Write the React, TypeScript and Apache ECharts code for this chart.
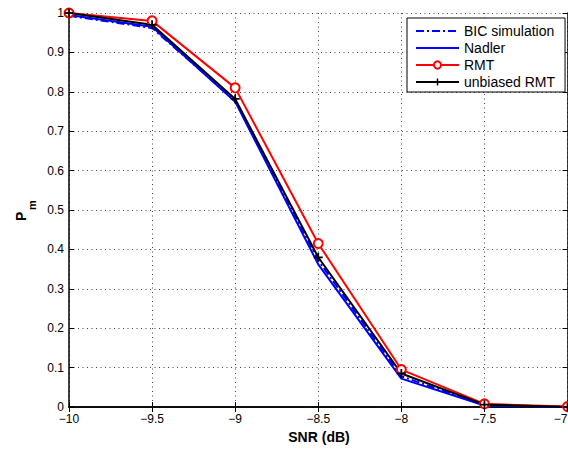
import React, { useEffect, useRef } from "react";
import * as echarts from "echarts";

const snrDb = [-10, -9.5, -9, -8.5, -8, -7.5, -7];
const bicSimulation = [0.993, 0.962, 0.778, 0.372, 0.078, 0.005, 0];
const nadler = [0.995, 0.965, 0.775, 0.362, 0.072, 0.004, 0];
const rmt = [1.0, 0.98, 0.81, 0.415, 0.095, 0.008, 0.001];
const unbiasedRmt = [1.0, 0.97, 0.782, 0.38, 0.085, 0.006, 0];

const seriesNames = ["BIC simulation", "Nadler", "RMT", "unbiased RMT"];

const FONT = "Liberation Sans, Arial, Helvetica, sans-serif";
const fmtNum = (v: number) => {
  const s = String(Math.round(v * 100) / 100);
  return s.replace("-", "\u2212");
};

const pairs = (ys: number[]) => snrDb.map((x, i) => [x, ys[i]]);

export default function App() {
  const ref = useRef<HTMLDivElement>(null);
  useEffect(() => {
    if (!ref.current) return;
    const chart = echarts.init(ref.current, undefined, { renderer: "svg" });
    const gridLine = { show: true, lineStyle: { color: "#444", width: 1, type: [1, 3.5] as any } };
    const axisLine = { show: true, lineStyle: { color: "#000", width: 1.5 } };
    const tick = { show: true, inside: true, length: 5, lineStyle: { color: "#000", width: 1 } };
    chart.setOption({
      animation: false,
      backgroundColor: "#fff",
      grid: {
        left: 69,
        right: 0.5,
        top: 13,
        bottom: 45,
        containLabel: false,
        outerBoundsMode: "none",
      },
      xAxis: [
        {
          type: "value",
          min: -10,
          max: -7,
          interval: 0.5,
          axisLine,
          axisTick: tick,
          splitLine: gridLine,
          axisLabel: {
            color: "#000",
            fontSize: 12,
            fontFamily: FONT,
            margin: 6,
            formatter: fmtNum,
            showMinLabel: true,
            showMaxLabel: true,
            hideOverlap: false,
            alignMaxLabel: "right",
          },
        },
        {
          type: "value",
          position: "top",
          min: -10,
          max: -7,
          interval: 0.5,
          axisLine,
          axisTick: tick,
          splitLine: { show: false },
          axisLabel: { show: false },
        },
      ],
      yAxis: [
        {
          type: "value",
          min: 0,
          max: 1,
          interval: 0.1,
          axisLine,
          axisTick: tick,
          splitLine: gridLine,
          axisLabel: {
            color: "#000",
            fontSize: 12,
            fontFamily: FONT,
            margin: 5,
            formatter: fmtNum,
            showMinLabel: true,
            showMaxLabel: true,
          },
        },
        {
          type: "value",
          position: "right",
          min: 0,
          max: 1,
          interval: 0.1,
          axisLine,
          axisTick: tick,
          splitLine: { show: false },
          axisLabel: { show: false },
        },
      ],
      legend: {
        orient: "vertical",
        left: 407,
        top: 18,
        padding: [6, 10, 3, 8],
        itemGap: 3,
        itemWidth: 43,
        itemHeight: 9,
        backgroundColor: "#fff",
        borderColor: "#000",
        borderWidth: 1,
        borderRadius: 0,
        textStyle: { color: "#000", fontSize: 14, fontFamily: FONT },
        data: [
          { name: seriesNames[0], itemStyle: { opacity: 0 } },
          { name: seriesNames[1], itemStyle: { opacity: 0 } },
          { name: seriesNames[2] },
          { name: seriesNames[3] },
        ],
      },
      graphic: [
        {
          type: "text",
          x: 14,
          y: 221,
          rotation: Math.PI / 2,
          style: { text: "P", font: `bold 14px ${FONT}`, fill: "#000", textVerticalAlign: "top" },
        },
        {
          type: "text",
          x: 26,
          y: 210,
          rotation: Math.PI / 2,
          style: { text: "m", font: `bold 11px ${FONT}`, fill: "#000", textVerticalAlign: "top" },
        },
        {
          type: "text",
          x: 319,
          y: 437,
          style: {
            text: "SNR (dB)",
            font: `bold 14px ${FONT}`,
            fill: "#000",
            textAlign: "center",
            textVerticalAlign: "middle",
          },
        },
      ],
      series: [
        {
          name: seriesNames[0],
          type: "line",
          data: pairs(bicSimulation),
          symbol: "none",
          lineStyle: { color: "#0000ff", width: 2, type: [8, 3, 2, 3] as any },
          itemStyle: { color: "#0000ff" },
        },
        {
          name: seriesNames[1],
          type: "line",
          data: pairs(nadler),
          symbol: "none",
          lineStyle: { color: "#0000ff", width: 2 },
          itemStyle: { color: "#0000ff" },
        },
        {
          name: seriesNames[2],
          type: "line",
          data: pairs(rmt),
          symbol: "circle",
          symbolSize: 9,
          clip: false,
          lineStyle: { color: "#ff0000", width: 2 },
          itemStyle: { color: "#fff", borderColor: "#ff0000", borderWidth: 2 },
        },
        {
          name: seriesNames[3],
          type: "line",
          data: pairs(unbiasedRmt),
          symbol: "path://M3.2,0H4.8V3.2H8V4.8H4.8V8H3.2V4.8H0V3.2H3.2Z",
          symbolSize: 9,
          clip: false,
          lineStyle: { color: "#000", width: 2 },
          itemStyle: { color: "#000" },
        },
      ],
    });
    return () => chart.dispose();
  }, []);
  return (
    <div
      ref={ref}
      style={{ position: "absolute", left: 0, top: 0, width: 568, height: 452 }}
    />
  );
}
